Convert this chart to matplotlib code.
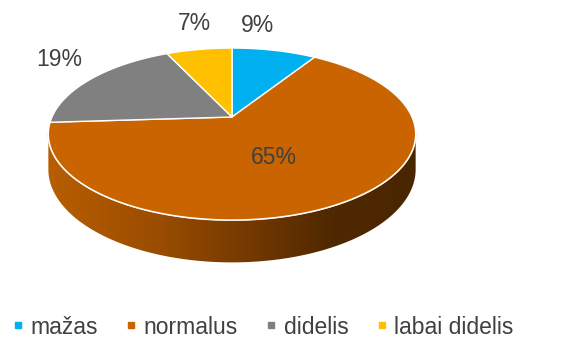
import numpy as np
import matplotlib
matplotlib.use('Agg')
import matplotlib.pyplot as plt
from matplotlib.patches import Polygon
from matplotlib.lines import Line2D
from matplotlib.colors import LinearSegmentedColormap

plt.rcParams['font.family'] = ['Liberation Sans', 'DejaVu Sans']

categories = ['mažas', 'normalus', 'didelis', 'labai didelis']
shares = [9, 65, 19, 7]
colors = ['#00B0F0', '#C96400', '#808080', '#FFC000']

# label anchors (pixels) for each slice's percentage
label_pos = [(258, 26), (274, 158), (59, 60), (194, 24)]

# perspective disc: centre, half axes, depth factor, thickness
cx, cy = 232, 117
A, B, k, T = 180, 82.6, 0.198, 34


def proj(phi, rho=1.0, drop=0.0):
    u = rho * np.cos(phi)
    v = rho * np.sin(phi)
    s = 1.0 / (1.0 + k * v)
    return cx + A * u * s, cy - B * v * s + drop * s


fig = plt.figure(figsize=(5.63, 3.41), dpi=100)
ax = fig.add_axes([0, 0, 1, 1])
ax.set_xlim(0, 563)
ax.set_ylim(341, 0)
ax.axis('off')

# side wall of the disc, shaded left to right
phi0 = np.arcsin(k)
side_phi = np.linspace(np.pi + phi0, 2 * np.pi - phi0, 200)
tx, ty = proj(side_phi)
bx, by = proj(side_phi[::-1], drop=T)
side = Polygon(np.column_stack([np.r_[tx, bx], np.r_[ty, by]]),
               closed=True, facecolor='none', edgecolor='none')
ax.add_patch(side)
shade = LinearSegmentedColormap.from_list(
    'side', [(0.0, '#B85E00'), (0.3, '#9A4C00'), (0.6, '#6B3500'),
             (0.78, '#4E2800'), (1.0, '#4A2600')])
grad = np.linspace(0, 1, 256).reshape(1, -1)
img = ax.imshow(grad, cmap=shade, aspect='auto',
                extent=(tx.min(), tx.max(), by.max() + 2, ty.min()), zorder=1)
img.set_clip_path(side)

# front rim highlight
ax.plot(tx, ty, color='#F4E6D6', lw=1.4, zorder=2)

# top face slices, clockwise from twelve o'clock
start = np.pi / 2
total = float(sum(shares))
for val, col, (lx, ly) in zip(shares, colors, label_pos):
    sweep = 2 * np.pi * val / total
    arc = np.linspace(start, start - sweep, max(int(val * 4), 10))
    ax_, ay_ = proj(arc)
    pts = np.column_stack([np.r_[cx, ax_], np.r_[cy, ay_]])
    ax.add_patch(Polygon(pts, closed=True, facecolor=col, edgecolor='white',
                         lw=1.0, joinstyle='round', zorder=3))
    ax.text(lx, ly, f'{val}%', ha='center', va='center', fontsize=16.5,
            color='#404040', zorder=4)
    start -= sweep

handles = [Line2D([], [], marker='s', ls='none', markersize=5,
                  markerfacecolor=c, markeredgecolor=c) for c in colors]
fig.legend(handles, categories, loc='center', ncol=4,
           bbox_to_anchor=(263 / 563, 1 - 327 / 341), frameon=False,
           fontsize=16.5, handlelength=0.5, handletextpad=0.3,
           columnspacing=1.2, labelcolor='#404040', borderpad=0)

fig.savefig('out.png', dpi=100)
